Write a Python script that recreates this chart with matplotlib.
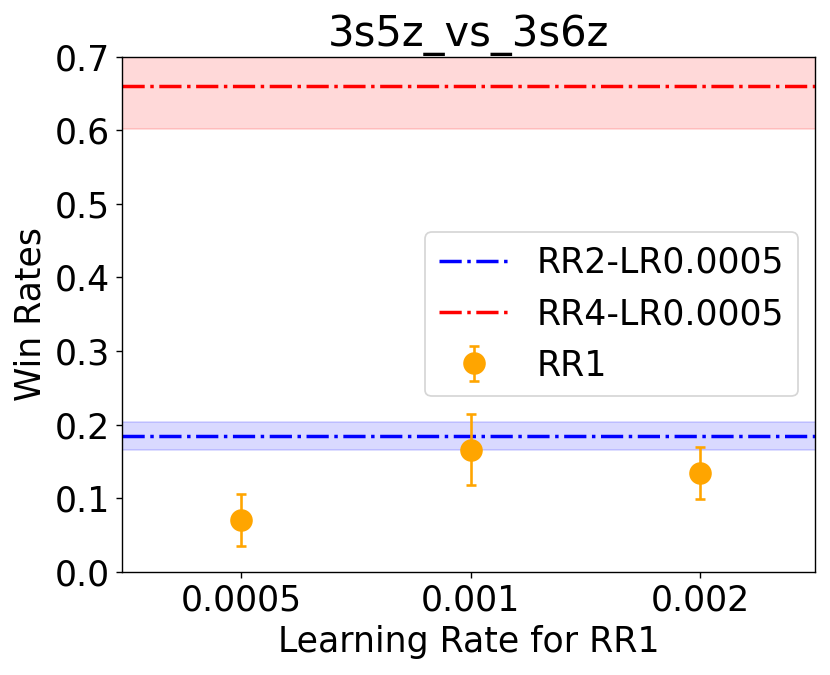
import numpy as np
import matplotlib.pyplot as plt

# RR1 results per learning rate
lr_labels = ["0.0005", "0.001", "0.002"]
rr1_mean = [0.070, 0.166, 0.134]
rr1_err = [0.035, 0.048, 0.035]

# baselines (mean, lower, upper)
rr2_mean, rr2_low, rr2_high = 0.184, 0.165, 0.204
rr4_mean, rr4_low, rr4_high = 0.660, 0.602, 0.720

plt.rcParams['font.size'] = 20

fig = plt.figure(figsize=(6.64, 5.4), dpi=125)
ax = fig.add_axes([0.147, 0.153, 0.835, 0.763])

x = np.arange(len(lr_labels))
xs = np.array([-1.0, 3.0])

ax.axhline(rr2_mean, color='blue', linestyle='-.', linewidth=2, label='RR2-LR0.0005')
ax.fill_between(xs, rr2_low, rr2_high, color='blue', alpha=0.15)
ax.axhline(rr4_mean, color='red', linestyle='-.', linewidth=2, label='RR4-LR0.0005')
ax.fill_between(xs, rr4_low, rr4_high, color='red', alpha=0.15)

ax.errorbar(x, rr1_mean, yerr=rr1_err, fmt='o', color='orange',
            markersize=12, capsize=3, elinewidth=1.5, capthick=1.5, label='RR1')

ax.set_xticks(x)
ax.set_xticklabels(lr_labels)
ax.set_xlim(-0.52, 2.5)
ax.set_ylim(0, 0.7)
ax.set_yticks(np.arange(0, 0.71, 0.1))
ax.set_xlabel("Learning Rate for RR1")
ax.set_ylabel("Win Rates")
ax.set_title("3s5z_vs_3s6z", fontsize=24)
ax.legend(loc='center right')

fig.savefig("out.png")
